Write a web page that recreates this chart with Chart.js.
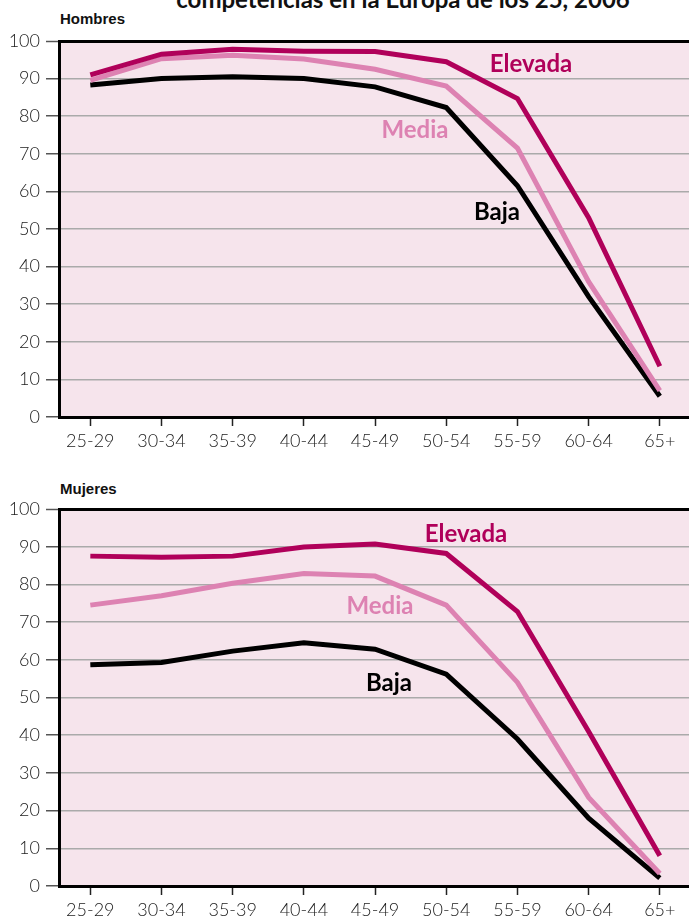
<!DOCTYPE html>
<html>
<head>
  <title>Hombres y Mujeres</title>
  <script src="https://cdn.jsdelivr.net/npm/chart.js"></script>
  <style>
    body { margin: 0; background: #fff; font-family: Lato, "Liberation Sans", sans-serif; }
    #wrap { position: relative; width: 689px; height: 921px; overflow: hidden; }
    canvas { position: absolute; left: 0; }
    .txt { position: absolute; font-weight: bold; white-space: nowrap; }
    .serie { font-size: 24px; transform: translate(-50%, -50%); }
  </style>
</head>
<body>
  <div id="wrap">
    <div class="txt" style="left:0;width:806px;text-align:center;top:-16px;font-size:24px;color:#111;">competencias en la Europa de los 25, 2006</div>
    <div class="txt" style="left:60px;top:10px;font-size:15px;color:#111;font-family:'Liberation Sans Narrow','Liberation Sans',sans-serif;">Hombres</div>
    <div class="txt" style="left:60px;top:480px;font-size:15px;color:#111;font-family:'Liberation Sans Narrow','Liberation Sans',sans-serif;">Mujeres</div>

    <canvas id="hombres" width="689" height="460" style="top:0"></canvas>
    <canvas id="mujeres" width="689" height="461" style="top:460px"></canvas>

    <div class="txt serie" style="left:531px;top:62px;color:#b0005a;">Elevada</div>
    <div class="txt serie" style="left:415px;top:128px;color:#dd82b2;">Media</div>
    <div class="txt serie" style="left:497px;top:210px;color:#000;">Baja</div>
    <div class="txt serie" style="left:466px;top:532px;color:#b0005a;">Elevada</div>
    <div class="txt serie" style="left:380px;top:604px;color:#dd82b2;">Media</div>
    <div class="txt serie" style="left:389px;top:681px;color:#000;">Baja</div>
  </div>
  <script>
    // Age groups
    const edades = ['25-29', '30-34', '35-39', '40-44', '45-49', '50-54', '55-59', '60-64', '65+'];

    // Hombres (men)
    const hombresElevada = [91, 96.5, 97.8, 97.3, 97.2, 94.5, 84.7, 53, 13.5];
    const hombresMedia   = [89.5, 95.3, 96.2, 95.2, 92.5, 88, 71.5, 36, 7];
    const hombresBaja    = [88.3, 90, 90.5, 90, 87.8, 82.3, 61.5, 32, 5.5];

    // Mujeres (women)
    const mujeresElevada = [87.5, 87.2, 87.5, 89.9, 90.7, 88.2, 72.8, 41, 8];
    const mujeresMedia   = [74.5, 77, 80.3, 82.9, 82.2, 74.5, 54, 23.5, 3.3];
    const mujeresBaja    = [58.7, 59.3, 62.3, 64.5, 62.8, 56.2, 39, 18, 2.1];

    const yTicks = [0, 10, 20, 30, 40, 50, 60, 70, 80, 90, 100];

    const colElevada = '#b0005a';
    const colMedia = '#dd82b2';
    const colBaja = '#000000';

    // Pink plot background
    const bgPlugin = {
      id: 'bg',
      beforeDraw(chart) {
        const a = chart.chartArea;
        const ctx = chart.ctx;
        ctx.save();
        ctx.fillStyle = '#f6e4ec';
        ctx.fillRect(a.left, a.top, a.right - a.left, a.bottom - a.top);
        ctx.restore();
      }
    };

    function toPoints(values) {
      return values.map((v, i) => ({ x: i, y: v }));
    }

    function makeChart(id, elevada, media, baja, padTop, xHeight) {
      const line = (data, color) => ({
        data: toPoints(data),
        borderColor: color,
        borderWidth: 5,
        pointRadius: 0,
        tension: 0,
        borderCapStyle: 'butt',
        borderJoinStyle: 'miter'
      });
      const tickFont = { family: 'Lato', size: 18, weight: '300' };
      return new Chart(document.getElementById(id), {
        type: 'line',
        data: {
          datasets: [line(elevada, colElevada), line(media, colMedia), line(baja, colBaja)]
        },
        options: {
          responsive: false,
          animation: false,
          layout: { padding: { top: padTop, left: 0, right: 0, bottom: 0 } },
          plugins: { legend: { display: false }, tooltip: { enabled: false } },
          scales: {
            x: {
              type: 'linear',
              min: -0.44,
              max: 8.41,
              afterBuildTicks: s => { s.ticks = edades.map((_, i) => ({ value: i })); },
              afterFit: s => { s.height = xHeight; },
              ticks: {
                callback: v => edades[v],
                font: tickFont,
                color: '#1a1a1a',
                padding: 4,
                maxRotation: 0,
                autoSkip: false
              },
              grid: { drawOnChartArea: false, drawTicks: true, tickLength: 9, tickColor: '#222', tickWidth: 1.5 },
              border: { color: '#000', width: 3 }
            },
            y: {
              min: 0,
              max: 100,
              afterBuildTicks: s => { s.ticks = yTicks.map(v => ({ value: v })); },
              afterFit: s => { s.width = 59; },
              ticks: {
                font: tickFont,
                color: '#1a1a1a',
                padding: 6
              },
              grid: {
                color: c => c.tick && c.tick.value === 100 ? '#000' : '#aaaaaa',
                lineWidth: c => c.tick && c.tick.value === 100 ? 3 : 1.5,
                tickLength: 13,
                tickColor: '#555',
                tickWidth: 1.5
              },
              border: { color: '#000', width: 3 }
            }
          }
        },
        plugins: [bgPlugin]
      });
    }

    makeChart('hombres', hombresElevada, hombresMedia, hombresBaja, 41, 43);
    makeChart('mujeres', mujeresElevada, mujeresMedia, mujeresBaja, 49, 35);
  </script>
</body>
</html>
